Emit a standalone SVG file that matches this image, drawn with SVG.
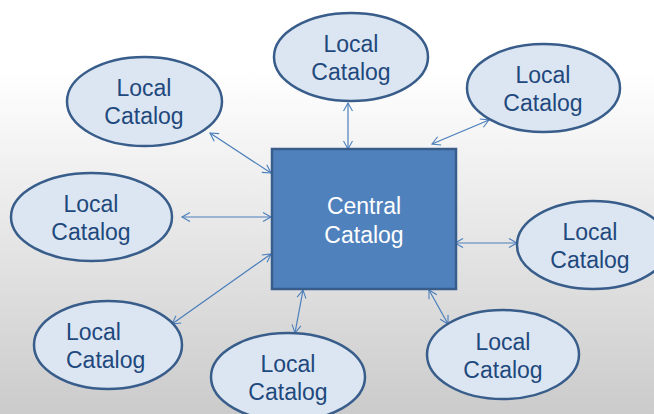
<svg xmlns="http://www.w3.org/2000/svg" width="654" height="414" viewBox="0 0 654 414">
  <defs>
    <linearGradient id="bg" x1="0" y1="0" x2="0" y2="1">
      <stop offset="0" stop-color="#ffffff"/>
      <stop offset="0.17" stop-color="#ffffff"/>
      <stop offset="1" stop-color="#cbcbcb"/>
    </linearGradient>
    <marker id="arr" viewBox="-10 -6 12 12" refX="0" refY="0" markerWidth="12" markerHeight="12" markerUnits="userSpaceOnUse" orient="auto-start-reverse">
      <path d="M-8,-4.5 L0,0 L-8,4.5" fill="none" stroke="#4A7EBB" stroke-width="1.1"/>
    </marker>
    <style>
      .loc ellipse { fill: #DCE6F2; stroke: #385D8A; stroke-width: 2.5; }
      .loc text { font-family: "Liberation Sans", Arial, sans-serif; font-size: 23px; fill: #1F497D; text-anchor: middle; }
      .loc text.left { text-anchor: start; }
      .ctr rect { fill: #4F81BD; stroke: #385D8A; stroke-width: 2.5; }
      .ctr text { font-family: "Liberation Sans", Arial, sans-serif; font-size: 23px; fill: #ffffff; text-anchor: middle; }
      .conn line { stroke: #4A7EBB; stroke-width: 1.2; marker-start: url(#arr); marker-end: url(#arr); }
    </style>
  </defs>
  <rect x="0" y="0" width="654" height="414" fill="url(#bg)"/>

  <g id="connectors" class="conn">
    <line x1="348" y1="103" x2="348" y2="149"/>
    <line x1="489" y1="120" x2="432" y2="144"/>
    <line x1="210" y1="133" x2="271" y2="173"/>
    <line x1="182" y1="217" x2="271" y2="217"/>
    <line x1="455" y1="243" x2="517" y2="243"/>
    <line x1="271" y1="254" x2="172" y2="324"/>
    <line x1="303" y1="290" x2="295" y2="333"/>
    <line x1="429" y1="290" x2="448" y2="324"/>
  </g>

  <g id="central" class="ctr">
    <rect x="272" y="149" width="184" height="140"/>
    <text x="364" y="214">Central</text>
    <text x="364" y="243">Catalog</text>
  </g>

  <g id="local-top" class="loc">
    <ellipse cx="351" cy="57" rx="77" ry="44"/>
    <text x="351" y="52">Local</text>
    <text x="351" y="80">Catalog</text>
  </g>
  <g id="local-upper-left" class="loc">
    <ellipse cx="144.5" cy="101.5" rx="77.5" ry="44.5"/>
    <text x="144" y="96">Local</text>
    <text x="144" y="124">Catalog</text>
  </g>
  <g id="local-upper-right" class="loc">
    <ellipse cx="543.5" cy="88" rx="76.5" ry="44"/>
    <text x="543" y="83">Local</text>
    <text x="543" y="111">Catalog</text>
  </g>
  <g id="local-left" class="loc">
    <ellipse cx="91.5" cy="217" rx="80.5" ry="44"/>
    <text x="91" y="212">Local</text>
    <text x="91" y="240">Catalog</text>
  </g>
  <g id="local-right" class="loc">
    <ellipse cx="593" cy="245" rx="76" ry="44"/>
    <text x="590" y="240">Local</text>
    <text x="590" y="268">Catalog</text>
  </g>
  <g id="local-lower-left" class="loc">
    <ellipse cx="108" cy="345" rx="74" ry="44"/>
    <text class="left" x="66" y="340">Local</text>
    <text class="left" x="66" y="368">Catalog</text>
  </g>
  <g id="local-bottom" class="loc">
    <ellipse cx="288" cy="377" rx="77" ry="44"/>
    <text x="288" y="372">Local</text>
    <text x="288" y="400">Catalog</text>
  </g>
  <g id="local-lower-right" class="loc">
    <ellipse cx="503" cy="354.5" rx="76" ry="44.5"/>
    <text x="503" y="350">Local</text>
    <text x="503" y="378">Catalog</text>
  </g>
</svg>
